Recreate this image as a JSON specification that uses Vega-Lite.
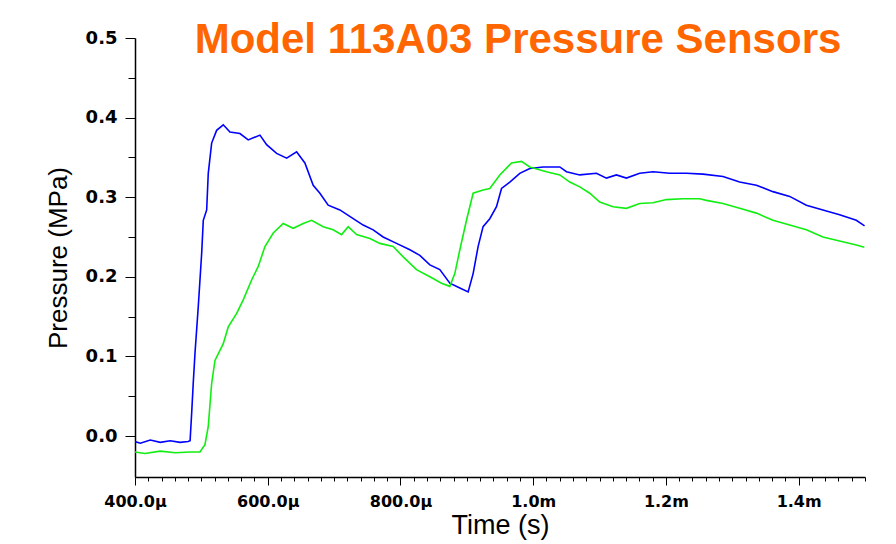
{
  "$schema": "https://vega.github.io/schema/vega-lite/v6.json",
  "width": 730,
  "height": 439,
  "autosize": {"type": "none"},
  "padding": {"left": 135, "top": 38, "right": 31, "bottom": 67},
  "background": "white",
  "title": {
    "text": "Model 113A03 Pressure Sensors",
    "font": "Liberation Sans",
    "fontSize": 42,
    "fontWeight": "bold",
    "color": "#ff6600",
    "anchor": "middle",
    "dx": 18,
    "dy": 33,
    "offset": 0
  },
  "config": {
    "view": {"stroke": null},
    "axis": {"grid": false, "domainColor": "black", "domainWidth": 1.5, "tickColor": "black", "tickWidth": 1, "labelColor": "black", "titleColor": "black"}
  },
  "data": {
    "values": [
      {"sensor": "Sensor 1", "t": 400, "p": -0.007},
      {"sensor": "Sensor 1", "t": 408, "p": -0.009},
      {"sensor": "Sensor 1", "t": 423, "p": -0.005},
      {"sensor": "Sensor 1", "t": 438, "p": -0.008},
      {"sensor": "Sensor 1", "t": 453, "p": -0.006},
      {"sensor": "Sensor 1", "t": 468, "p": -0.008},
      {"sensor": "Sensor 1", "t": 480, "p": -0.007},
      {"sensor": "Sensor 1", "t": 483, "p": -0.006},
      {"sensor": "Sensor 1", "t": 485.4, "p": 0.029},
      {"sensor": "Sensor 1", "t": 487.8, "p": 0.067},
      {"sensor": "Sensor 1", "t": 490.4, "p": 0.104},
      {"sensor": "Sensor 1", "t": 495.3, "p": 0.162},
      {"sensor": "Sensor 1", "t": 500.5, "p": 0.23},
      {"sensor": "Sensor 1", "t": 502.9, "p": 0.271},
      {"sensor": "Sensor 1", "t": 508.0, "p": 0.284},
      {"sensor": "Sensor 1", "t": 510.4, "p": 0.33},
      {"sensor": "Sensor 1", "t": 515.5, "p": 0.368},
      {"sensor": "Sensor 1", "t": 523.0, "p": 0.384},
      {"sensor": "Sensor 1", "t": 533.0, "p": 0.391},
      {"sensor": "Sensor 1", "t": 543.1, "p": 0.382},
      {"sensor": "Sensor 1", "t": 558.1, "p": 0.38},
      {"sensor": "Sensor 1", "t": 570.6, "p": 0.372},
      {"sensor": "Sensor 1", "t": 588.3, "p": 0.378},
      {"sensor": "Sensor 1", "t": 598.3, "p": 0.366},
      {"sensor": "Sensor 1", "t": 613.4, "p": 0.355},
      {"sensor": "Sensor 1", "t": 628.5, "p": 0.349},
      {"sensor": "Sensor 1", "t": 643.5, "p": 0.357},
      {"sensor": "Sensor 1", "t": 656.0, "p": 0.343},
      {"sensor": "Sensor 1", "t": 668.5, "p": 0.315},
      {"sensor": "Sensor 1", "t": 678.6, "p": 0.305},
      {"sensor": "Sensor 1", "t": 691.1, "p": 0.29},
      {"sensor": "Sensor 1", "t": 708.7, "p": 0.284},
      {"sensor": "Sensor 1", "t": 728.8, "p": 0.273},
      {"sensor": "Sensor 1", "t": 743.8, "p": 0.265},
      {"sensor": "Sensor 1", "t": 758.9, "p": 0.259},
      {"sensor": "Sensor 1", "t": 773.9, "p": 0.25},
      {"sensor": "Sensor 1", "t": 794.1, "p": 0.242},
      {"sensor": "Sensor 1", "t": 814.2, "p": 0.234},
      {"sensor": "Sensor 1", "t": 829.2, "p": 0.227},
      {"sensor": "Sensor 1", "t": 844.3, "p": 0.215},
      {"sensor": "Sensor 1", "t": 859.3, "p": 0.209},
      {"sensor": "Sensor 1", "t": 874.4, "p": 0.192},
      {"sensor": "Sensor 1", "t": 889.5, "p": 0.186},
      {"sensor": "Sensor 1", "t": 902.0, "p": 0.181},
      {"sensor": "Sensor 1", "t": 909.5, "p": 0.204},
      {"sensor": "Sensor 1", "t": 917.0, "p": 0.238},
      {"sensor": "Sensor 1", "t": 924.5, "p": 0.263},
      {"sensor": "Sensor 1", "t": 934.6, "p": 0.273},
      {"sensor": "Sensor 1", "t": 944.7, "p": 0.288},
      {"sensor": "Sensor 1", "t": 952.3, "p": 0.311},
      {"sensor": "Sensor 1", "t": 964.8, "p": 0.319},
      {"sensor": "Sensor 1", "t": 979.8, "p": 0.33},
      {"sensor": "Sensor 1", "t": 994.9, "p": 0.336},
      {"sensor": "Sensor 1", "t": 1014.9, "p": 0.338},
      {"sensor": "Sensor 1", "t": 1040.1, "p": 0.338},
      {"sensor": "Sensor 1", "t": 1050.1, "p": 0.332},
      {"sensor": "Sensor 1", "t": 1070.2, "p": 0.328},
      {"sensor": "Sensor 1", "t": 1095.3, "p": 0.33},
      {"sensor": "Sensor 1", "t": 1110.4, "p": 0.324},
      {"sensor": "Sensor 1", "t": 1125.4, "p": 0.328},
      {"sensor": "Sensor 1", "t": 1140.5, "p": 0.324},
      {"sensor": "Sensor 1", "t": 1160.5, "p": 0.33},
      {"sensor": "Sensor 1", "t": 1180.6, "p": 0.332},
      {"sensor": "Sensor 1", "t": 1205.7, "p": 0.33},
      {"sensor": "Sensor 1", "t": 1230.9, "p": 0.33},
      {"sensor": "Sensor 1", "t": 1255.9, "p": 0.329},
      {"sensor": "Sensor 1", "t": 1286.0, "p": 0.326},
      {"sensor": "Sensor 1", "t": 1311.1, "p": 0.319},
      {"sensor": "Sensor 1", "t": 1336.3, "p": 0.315},
      {"sensor": "Sensor 1", "t": 1361.3, "p": 0.307},
      {"sensor": "Sensor 1", "t": 1386.5, "p": 0.301},
      {"sensor": "Sensor 1", "t": 1411.6, "p": 0.29},
      {"sensor": "Sensor 1", "t": 1436.6, "p": 0.284},
      {"sensor": "Sensor 1", "t": 1461.7, "p": 0.278},
      {"sensor": "Sensor 1", "t": 1486.9, "p": 0.271},
      {"sensor": "Sensor 1", "t": 1499.4, "p": 0.264},
      {"sensor": "Sensor 2", "t": 400, "p": -0.02},
      {"sensor": "Sensor 2", "t": 415, "p": -0.022},
      {"sensor": "Sensor 2", "t": 438, "p": -0.019},
      {"sensor": "Sensor 2", "t": 461, "p": -0.021},
      {"sensor": "Sensor 2", "t": 483, "p": -0.02},
      {"sensor": "Sensor 2", "t": 497.9, "p": -0.02},
      {"sensor": "Sensor 2", "t": 505.4, "p": -0.011},
      {"sensor": "Sensor 2", "t": 510.4, "p": 0.012},
      {"sensor": "Sensor 2", "t": 515.5, "p": 0.066},
      {"sensor": "Sensor 2", "t": 520.5, "p": 0.095},
      {"sensor": "Sensor 2", "t": 533.0, "p": 0.116},
      {"sensor": "Sensor 2", "t": 540.5, "p": 0.137},
      {"sensor": "Sensor 2", "t": 553.2, "p": 0.154},
      {"sensor": "Sensor 2", "t": 563.1, "p": 0.171},
      {"sensor": "Sensor 2", "t": 575.7, "p": 0.196},
      {"sensor": "Sensor 2", "t": 585.7, "p": 0.213},
      {"sensor": "Sensor 2", "t": 595.8, "p": 0.238},
      {"sensor": "Sensor 2", "t": 608.3, "p": 0.255},
      {"sensor": "Sensor 2", "t": 623.3, "p": 0.267},
      {"sensor": "Sensor 2", "t": 638.4, "p": 0.261},
      {"sensor": "Sensor 2", "t": 653.5, "p": 0.267},
      {"sensor": "Sensor 2", "t": 666.1, "p": 0.271},
      {"sensor": "Sensor 2", "t": 683.6, "p": 0.263},
      {"sensor": "Sensor 2", "t": 698.6, "p": 0.259},
      {"sensor": "Sensor 2", "t": 711.3, "p": 0.253},
      {"sensor": "Sensor 2", "t": 721.2, "p": 0.263},
      {"sensor": "Sensor 2", "t": 733.9, "p": 0.253},
      {"sensor": "Sensor 2", "t": 753.9, "p": 0.248},
      {"sensor": "Sensor 2", "t": 769.0, "p": 0.242},
      {"sensor": "Sensor 2", "t": 789.0, "p": 0.238},
      {"sensor": "Sensor 2", "t": 804.1, "p": 0.225},
      {"sensor": "Sensor 2", "t": 824.2, "p": 0.209},
      {"sensor": "Sensor 2", "t": 844.3, "p": 0.2},
      {"sensor": "Sensor 2", "t": 861.9, "p": 0.192},
      {"sensor": "Sensor 2", "t": 874.4, "p": 0.188},
      {"sensor": "Sensor 2", "t": 881.9, "p": 0.204},
      {"sensor": "Sensor 2", "t": 889.5, "p": 0.234},
      {"sensor": "Sensor 2", "t": 899.5, "p": 0.271},
      {"sensor": "Sensor 2", "t": 909.5, "p": 0.305},
      {"sensor": "Sensor 2", "t": 924.5, "p": 0.309},
      {"sensor": "Sensor 2", "t": 934.6, "p": 0.311},
      {"sensor": "Sensor 2", "t": 949.7, "p": 0.328},
      {"sensor": "Sensor 2", "t": 967.3, "p": 0.343},
      {"sensor": "Sensor 2", "t": 982.4, "p": 0.345},
      {"sensor": "Sensor 2", "t": 994.9, "p": 0.338},
      {"sensor": "Sensor 2", "t": 1020.0, "p": 0.332},
      {"sensor": "Sensor 2", "t": 1040.1, "p": 0.328},
      {"sensor": "Sensor 2", "t": 1055.1, "p": 0.319},
      {"sensor": "Sensor 2", "t": 1070.2, "p": 0.313},
      {"sensor": "Sensor 2", "t": 1085.2, "p": 0.305},
      {"sensor": "Sensor 2", "t": 1100.3, "p": 0.294},
      {"sensor": "Sensor 2", "t": 1120.3, "p": 0.288},
      {"sensor": "Sensor 2", "t": 1140.5, "p": 0.286},
      {"sensor": "Sensor 2", "t": 1160.5, "p": 0.292},
      {"sensor": "Sensor 2", "t": 1180.6, "p": 0.293},
      {"sensor": "Sensor 2", "t": 1200.7, "p": 0.297},
      {"sensor": "Sensor 2", "t": 1225.7, "p": 0.298},
      {"sensor": "Sensor 2", "t": 1250.9, "p": 0.298},
      {"sensor": "Sensor 2", "t": 1261.0, "p": 0.296},
      {"sensor": "Sensor 2", "t": 1286.0, "p": 0.292},
      {"sensor": "Sensor 2", "t": 1311.1, "p": 0.286},
      {"sensor": "Sensor 2", "t": 1336.3, "p": 0.28},
      {"sensor": "Sensor 2", "t": 1361.3, "p": 0.271},
      {"sensor": "Sensor 2", "t": 1386.5, "p": 0.265},
      {"sensor": "Sensor 2", "t": 1411.6, "p": 0.259},
      {"sensor": "Sensor 2", "t": 1436.6, "p": 0.25},
      {"sensor": "Sensor 2", "t": 1461.7, "p": 0.245},
      {"sensor": "Sensor 2", "t": 1486.9, "p": 0.24},
      {"sensor": "Sensor 2", "t": 1499.0, "p": 0.237}
    ]
  },
  "mark": {"type": "line", "strokeWidth": 1.6, "clip": true},
  "encoding": {
    "x": {
      "field": "t",
      "type": "quantitative",
      "scale": {"domain": [400, 1500], "nice": false, "zero": false},
      "axis": {
        "title": "Time (s)",
        "titleFont": "Liberation Sans",
        "titleFontSize": 27,
        "titleFontWeight": "normal",
        "titlePadding": 3,
        "labelFont": "DejaVu Sans",
        "labelFontSize": 16,
        "labelFontWeight": "bold",
        "labelPadding": 8,
        "labelFlush": false,
        "labelOverlap": false,
        "values": [400,420,440,460,480,500,520,540,560,580,600,620,640,660,680,700,720,740,760,780,800,820,840,860,880,900,920,940,960,980,1000,1020,1040,1060,1080,1100,1120,1140,1160,1180,1200,1220,1240,1260,1280,1300,1320,1340,1360,1380,1400,1420,1440,1460,1480,1500],
        "labelExpr": "datum.value % 200 == 0 ? (datum.value < 1000 ? format(datum.value, '.1f') + 'µ' : format(datum.value / 1000, '.1f') + 'm') : ''",
        "tickSize": {"condition": {"test": "datum.value % 200 == 0", "value": 8}, "value": 4}
      }
    },
    "y": {
      "field": "p",
      "type": "quantitative",
      "scale": {"domain": [-0.0515, 0.5], "nice": false, "zero": false},
      "axis": {
        "title": "Pressure (MPa)",
        "titleFont": "Liberation Sans",
        "titleFontSize": 26,
        "titleFontWeight": "normal",
        "titlePadding": 14,
        "labelFont": "DejaVu Sans",
        "labelFontSize": 18,
        "labelFontWeight": "bold",
        "labelPadding": 8,
        "labelFlush": false,
        "labelOverlap": false,
        "values": [0, 0.05, 0.1, 0.15, 0.2, 0.25, 0.3, 0.35, 0.4, 0.45, 0.5],
        "labelExpr": "abs(datum.value * 10 - round(datum.value * 10)) < 0.01 ? format(datum.value, '.1f') : ''",
        "tickSize": {"condition": {"test": "abs(datum.value * 10 - round(datum.value * 10)) < 0.01", "value": 10}, "value": 7}
      }
    },
    "color": {
      "field": "sensor",
      "type": "nominal",
      "scale": {"domain": ["Sensor 1", "Sensor 2"], "range": ["#0000ff", "#11ee11"]},
      "legend": null
    }
  }
}
